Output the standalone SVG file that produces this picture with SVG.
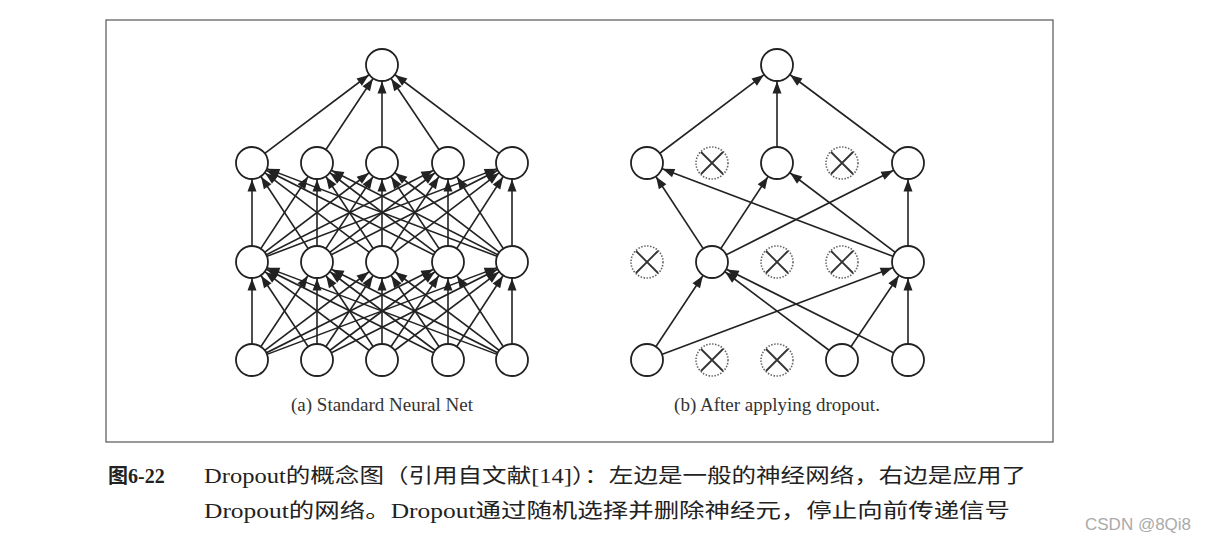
<svg xmlns="http://www.w3.org/2000/svg" width="1226" height="543" viewBox="0 0 1226 543">
<style>
.c{stroke:#222;stroke-width:1.6;marker-end:url(#a)}
.n{fill:#fff;stroke:#222;stroke-width:1.8}
.d{fill:#fff;stroke:#666;stroke-width:1.6;stroke-dasharray:1.5 1.5}
.x{stroke:#333;stroke-width:1.8}
.t{font-family:"Liberation Serif","DejaVu Serif",serif;font-size:19px;fill:#333}
.cap{font-family:"Liberation Serif","Noto Sans CJK SC",serif;font-size:20px;fill:#222}
</style>
<defs>
<marker id="a" markerUnits="userSpaceOnUse" markerWidth="30" markerHeight="10" refX="28.5" refY="4.5" orient="auto" overflow="visible"><path d="M0,0 L12,4.5 L0,9 z" fill="#222"/></marker>
<circle id="dn" r="16" class="d"/>
</defs>
<rect x="106" y="20" width="947" height="422" fill="#fff" stroke="#555" stroke-width="1.2"/>
<g id="connectors">
<!-- left: input -> h1 -->
<path class="c" d="M252,360L252,262"/><path class="c" d="M252,360L317,262"/><path class="c" d="M252,360L382,262"/><path class="c" d="M252,360L448,262"/><path class="c" d="M252,360L512,262"/>
<path class="c" d="M317,360L252,262"/><path class="c" d="M317,360L317,262"/><path class="c" d="M317,360L382,262"/><path class="c" d="M317,360L448,262"/><path class="c" d="M317,360L512,262"/>
<path class="c" d="M382,360L252,262"/><path class="c" d="M382,360L317,262"/><path class="c" d="M382,360L382,262"/><path class="c" d="M382,360L448,262"/><path class="c" d="M382,360L512,262"/>
<path class="c" d="M448,360L252,262"/><path class="c" d="M448,360L317,262"/><path class="c" d="M448,360L382,262"/><path class="c" d="M448,360L448,262"/><path class="c" d="M448,360L512,262"/>
<path class="c" d="M512,360L252,262"/><path class="c" d="M512,360L317,262"/><path class="c" d="M512,360L382,262"/><path class="c" d="M512,360L448,262"/><path class="c" d="M512,360L512,262"/>
<!-- left: h1 -> h2 -->
<path class="c" d="M252,262L252,163"/><path class="c" d="M252,262L317,163"/><path class="c" d="M252,262L382,163"/><path class="c" d="M252,262L448,163"/><path class="c" d="M252,262L512,163"/>
<path class="c" d="M317,262L252,163"/><path class="c" d="M317,262L317,163"/><path class="c" d="M317,262L382,163"/><path class="c" d="M317,262L448,163"/><path class="c" d="M317,262L512,163"/>
<path class="c" d="M382,262L252,163"/><path class="c" d="M382,262L317,163"/><path class="c" d="M382,262L382,163"/><path class="c" d="M382,262L448,163"/><path class="c" d="M382,262L512,163"/>
<path class="c" d="M448,262L252,163"/><path class="c" d="M448,262L317,163"/><path class="c" d="M448,262L382,163"/><path class="c" d="M448,262L448,163"/><path class="c" d="M448,262L512,163"/>
<path class="c" d="M512,262L252,163"/><path class="c" d="M512,262L317,163"/><path class="c" d="M512,262L382,163"/><path class="c" d="M512,262L448,163"/><path class="c" d="M512,262L512,163"/>
<!-- left: h2 -> out -->
<path class="c" d="M252,163L382,65"/><path class="c" d="M317,163L382,65"/><path class="c" d="M382,163L382,65"/><path class="c" d="M448,163L382,65"/><path class="c" d="M512,163L382,65"/>
<!-- right -->
<path class="c" d="M647,360L712,262"/><path class="c" d="M842,360L712,262"/><path class="c" d="M908,360L712,262"/>
<path class="c" d="M647,360L908,262"/><path class="c" d="M842,360L908,262"/><path class="c" d="M908,360L908,262"/>
<path class="c" d="M712,262L647,163"/><path class="c" d="M712,262L777,163"/><path class="c" d="M712,262L908,163"/>
<path class="c" d="M908,262L647,163"/><path class="c" d="M908,262L777,163"/><path class="c" d="M908,262L908,163"/>
<path class="c" d="M647,163L777,65"/><path class="c" d="M777,163L777,65"/><path class="c" d="M908,163L777,65"/>
</g>
<g id="left-net">
<circle class="n" cx="382" cy="65" r="16"/>
<circle class="n" cx="252" cy="163" r="16"/><circle class="n" cx="317" cy="163" r="16"/><circle class="n" cx="382" cy="163" r="16"/><circle class="n" cx="448" cy="163" r="16"/><circle class="n" cx="512" cy="163" r="16"/>
<circle class="n" cx="252" cy="262" r="16"/><circle class="n" cx="317" cy="262" r="16"/><circle class="n" cx="382" cy="262" r="16"/><circle class="n" cx="448" cy="262" r="16"/><circle class="n" cx="512" cy="262" r="16"/>
<circle class="n" cx="252" cy="360" r="16"/><circle class="n" cx="317" cy="360" r="16"/><circle class="n" cx="382" cy="360" r="16"/><circle class="n" cx="448" cy="360" r="16"/><circle class="n" cx="512" cy="360" r="16"/>
</g>
<g id="right-net">
<circle class="n" cx="777" cy="65" r="16"/>
<circle class="n" cx="647" cy="163" r="16"/><circle class="n" cx="777" cy="163" r="16"/><circle class="n" cx="908" cy="163" r="16"/>
<circle class="n" cx="712" cy="262" r="16"/><circle class="n" cx="908" cy="262" r="16"/>
<circle class="n" cx="647" cy="360" r="16"/><circle class="n" cx="842" cy="360" r="16"/><circle class="n" cx="908" cy="360" r="16"/>
</g>
<g id="dropped">
<g transform="translate(712,163)"><use href="#dn"/><path class="x" d="M-11,-11L11,11M11,-11L-11,11"/></g>
<g transform="translate(842,163)"><use href="#dn"/><path class="x" d="M-11,-11L11,11M11,-11L-11,11"/></g>
<g transform="translate(647,262)"><use href="#dn"/><path class="x" d="M-11,-11L11,11M11,-11L-11,11"/></g>
<g transform="translate(777,262)"><use href="#dn"/><path class="x" d="M-11,-11L11,11M11,-11L-11,11"/></g>
<g transform="translate(842,262)"><use href="#dn"/><path class="x" d="M-11,-11L11,11M11,-11L-11,11"/></g>
<g transform="translate(712,360)"><use href="#dn"/><path class="x" d="M-11,-11L11,11M11,-11L-11,11"/></g>
<g transform="translate(777,360)"><use href="#dn"/><path class="x" d="M-11,-11L11,11M11,-11L-11,11"/></g>
</g>
<text class="t" x="382" y="411" text-anchor="middle">(a) Standard Neural Net</text>
<text class="t" x="777" y="411" text-anchor="middle">(b) After applying dropout.</text>
<text class="cap" x="108" y="483" font-weight="bold">图6-22</text>
<text class="cap" x="204" y="483" textLength="822" lengthAdjust="spacingAndGlyphs">Dropout的概念图（引用自文献[14]）：左边是一般的神经网络，右边是应用了</text>
<text class="cap" x="204" y="518" textLength="806" lengthAdjust="spacingAndGlyphs">Dropout的网络。Dropout通过随机选择并删除神经元，停止向前传递信号</text>
<text x="1085" y="530" font-family="Liberation Sans,sans-serif" font-size="17" fill="#aaa">CSDN @8Qi8</text>
</svg>
